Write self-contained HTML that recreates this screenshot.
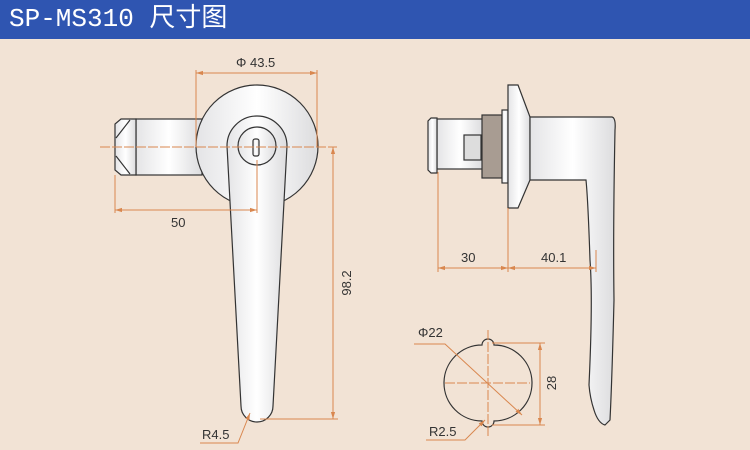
<!DOCTYPE html>
<html><head><meta charset="utf-8"><style>
body{margin:0;width:750px;height:450px;overflow:hidden;background:#f2e3d5;font-family:"Liberation Sans","Noto Sans CJK SC",sans-serif}
.hd{position:absolute;left:0;top:0;width:750px;height:39px;background:#2f55b1;color:#fff;font:26px "Liberation Mono","Noto Sans CJK SC",monospace;line-height:39px;padding-left:9px;box-sizing:border-box}
svg{position:absolute;left:0;top:0}
</style></head><body>
<div class="hd">SP-MS310 尺寸图</div>
<svg width="750" height="450" viewBox="0 0 750 450">
<defs>
<linearGradient id="g" x1="0" x2="1"><stop offset="0" stop-color="#e4e4e6"/><stop offset=".5" stop-color="#fff"/><stop offset="1" stop-color="#dcdcde"/></linearGradient>
<marker id="a" viewBox="0 0 10 10" refX="10" refY="5" markerWidth="7" markerHeight="7" orient="auto-start-reverse"><path d="M0,2L10,5L0,8z" fill="#d9874f"/></marker>
</defs>
<g stroke="#333" stroke-width="1.2" fill="url(#g)">
<rect x="136" y="119" width="66" height="56"/>
<path d="M136,119H121L115,124V170L121,175H136Z"/>
<path d="M116,138L130,120M116,156L130,174" fill="none"/>
<circle cx="257" cy="146" r="61"/>
<path d="M227,146A30,30 0 0 1 287,146L273,406A16,16 0 0 1 241,406Z"/>
<circle cx="257" cy="146" r="19"/>
<rect x="253" y="139" width="6" height="17" rx="2"/>
<rect x="437" y="119" width="46" height="50"/>
<path d="M437,118H431L428,121V170L431,173H437Z"/>
<rect x="464" y="135" width="17" height="25" fill="#ddd"/>
<rect x="482" y="115" width="20" height="63" fill="#a89c92"/>
<rect x="502" y="110" width="6" height="73"/>
<path d="M508,85H518L530,117V180L518,208H508Z"/>
<path d="M530,117H612Q616,118 615,130Q613,230 614,300Q612,380 610,420L605,425Q598,423 594,410Q590,398 589,385Q593,300 590,260Q588,200 586,180H530Z"/>
<path d="M482,345A5.5,5.5 0 0 1 494,345A31,31 0 0 1 494,421A5.5,5.5 0 0 1 482,421A31,31 0 0 1 482,345Z" fill="none"/>
</g>
<g stroke="#d9874f" stroke-width="1" fill="none">
<path d="M100,147H337M445,383H530M488,330V436" stroke-dasharray="10,2"/>
<path d="M196,70V147M317,70V147M115,175V213M257,160V213M260,419H338M438,172V272M508,208V272M596,250V272M492,343H545M492,425H545"/>
<line x1="196" y1="73" x2="317" y2="73" marker-start="url(#a)" marker-end="url(#a)"/>
<line x1="115" y1="210" x2="257" y2="210" marker-start="url(#a)" marker-end="url(#a)"/>
<line x1="333" y1="147" x2="333" y2="419" marker-start="url(#a)" marker-end="url(#a)"/>
<line x1="438" y1="268" x2="508" y2="268" marker-start="url(#a)" marker-end="url(#a)"/>
<line x1="508" y1="268" x2="596" y2="268" marker-start="url(#a)" marker-end="url(#a)"/>
<line x1="540" y1="343" x2="540" y2="425" marker-start="url(#a)" marker-end="url(#a)"/>
<path d="M200,443H238L250,413" marker-end="url(#a)"/>
<path d="M414,344H445L522,415" marker-end="url(#a)"/>
<path d="M426,440H465L485,420" marker-end="url(#a)"/>
</g>
<g fill="#333" font-size="13" font-family="Liberation Sans,sans-serif">
<text x="236" y="67">Φ 43.5</text>
<text x="171" y="227">50</text>
<text x="461" y="262">30</text>
<text x="541" y="262">40.1</text>
<text x="202" y="439">R4.5</text>
<text x="418" y="337">Φ22</text>
<text x="429" y="436">R2.5</text>
<text transform="translate(351,283) rotate(-90)" text-anchor="middle">98.2</text>
<text transform="translate(556,383) rotate(-90)" text-anchor="middle">28</text>
</g>
</svg>
</body></html>
